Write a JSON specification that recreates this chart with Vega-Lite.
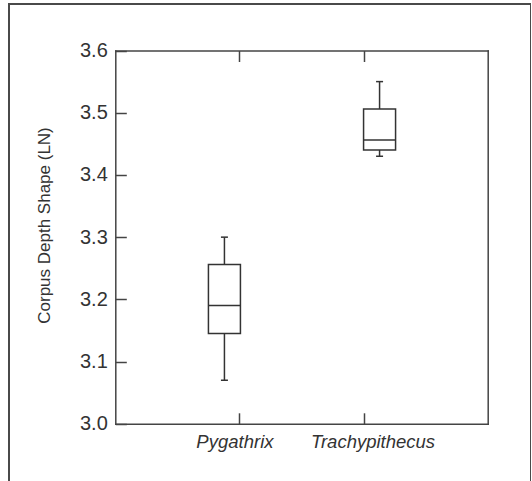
{
  "$schema": "https://vega.github.io/schema/vega-lite/v6.json",
  "width": 522,
  "height": 500,
  "autosize": {"type": "none"},
  "padding": {"left": 9, "top": 4, "right": 0, "bottom": 0},
  "background": "white",
  "config": {
    "view": {"stroke": "#4a4a4a", "strokeWidth": 2},
    "axis": {
      "grid": false,
      "domainColor": "#444",
      "domainWidth": 1.5,
      "domainCap": "square",
      "tickColor": "#444",
      "tickWidth": 1.5,
      "labelFont": "Liberation Sans",
      "labelColor": "#333",
      "titleFont": "Liberation Sans",
      "titleColor": "#333",
      "titleFontWeight": "normal"
    }
  },
  "data": {
    "values": [
      {"species": "Pygathrix", "min": 3.07, "q1": 3.145, "median": 3.19, "q3": 3.256, "max": 3.30},
      {"species": "Trachypithecus", "min": 3.43, "q1": 3.44, "median": 3.456, "q3": 3.506, "max": 3.55}
    ]
  },
  "layer": [
    {
      "mark": {"type": "rule", "color": "#333", "strokeWidth": 1.5, "xOffset": {"expr": "datum.species === 'Pygathrix' ? -15 : 16"}},
      "encoding": {
        "x": {
          "field": "species", "type": "nominal", "sort": null,
          "scale": {"type": "point", "range": [106.3, 478.7], "padding": 1},
          "axis": {
            "orient": "bottom", "offset": -80.2, "title": null,
            "tickSize": -11, "labelAngle": 0, "labelFontStyle": "italic",
            "labelFontSize": 18.5, "labelPadding": 20,
            "labelOffset": {"condition": {"test": "datum.value === 'Pygathrix'", "value": -5}, "value": 9}
          }
        },
        "y": {
          "field": "min", "type": "quantitative",
          "scale": {"domain": [3.0, 3.6], "range": [419.8, 46.5], "nice": false, "zero": false},
          "axis": {
            "orient": "left", "offset": -106.3, "title": "Corpus Depth Shape (LN)",
            "values": [3.0, 3.1, 3.2, 3.3, 3.4, 3.5, 3.6], "format": ".1f",
            "tickSize": -11, "labelFontSize": 20, "labelPadding": 19,
            "titleFontSize": 17, "titleBaseline": "middle", "titleAngle": -90,
            "titleX": -70.5, "titleY": 221
          }
        },
        "y2": {"field": "max"}
      }
    },
    {
      "mark": {"type": "bar", "size": 32, "fill": "white", "stroke": "#333", "strokeWidth": 1.5, "xOffset": {"expr": "datum.species === 'Pygathrix' ? -15 : 16"}},
      "encoding": {
        "x": {
          "field": "species", "type": "nominal", "sort": null,
          "scale": {"type": "point", "range": [106.3, 478.7], "padding": 1},
          "axis": {"orient": "top", "offset": -46.5, "title": null, "labels": false, "tickSize": -11}
        },
        "y": {
          "field": "q1", "type": "quantitative",
          "axis": {"orient": "right", "offset": -43.3, "title": null, "labels": false, "ticks": false}
        },
        "y2": {"field": "q3"}
      }
    },
    {
      "mark": {"type": "tick", "orient": "horizontal", "size": 32, "thickness": 1.5, "color": "#333", "opacity": 1, "xOffset": {"expr": "datum.species === 'Pygathrix' ? -15 : 16"}},
      "encoding": {
        "x": {"field": "species", "type": "nominal", "sort": null, "axis": null},
        "y": {"field": "median", "type": "quantitative", "axis": null}
      }
    },
    {
      "mark": {"type": "tick", "orient": "horizontal", "size": 7, "thickness": 1.5, "color": "#333", "opacity": 1, "xOffset": {"expr": "datum.species === 'Pygathrix' ? -15 : 16"}},
      "encoding": {
        "x": {"field": "species", "type": "nominal", "sort": null, "axis": null},
        "y": {"field": "min", "type": "quantitative", "axis": null}
      }
    },
    {
      "mark": {"type": "tick", "orient": "horizontal", "size": 7, "thickness": 1.5, "color": "#333", "opacity": 1, "xOffset": {"expr": "datum.species === 'Pygathrix' ? -15 : 16"}},
      "encoding": {
        "x": {"field": "species", "type": "nominal", "sort": null, "axis": null},
        "y": {"field": "max", "type": "quantitative", "axis": null}
      }
    }
  ]
}
